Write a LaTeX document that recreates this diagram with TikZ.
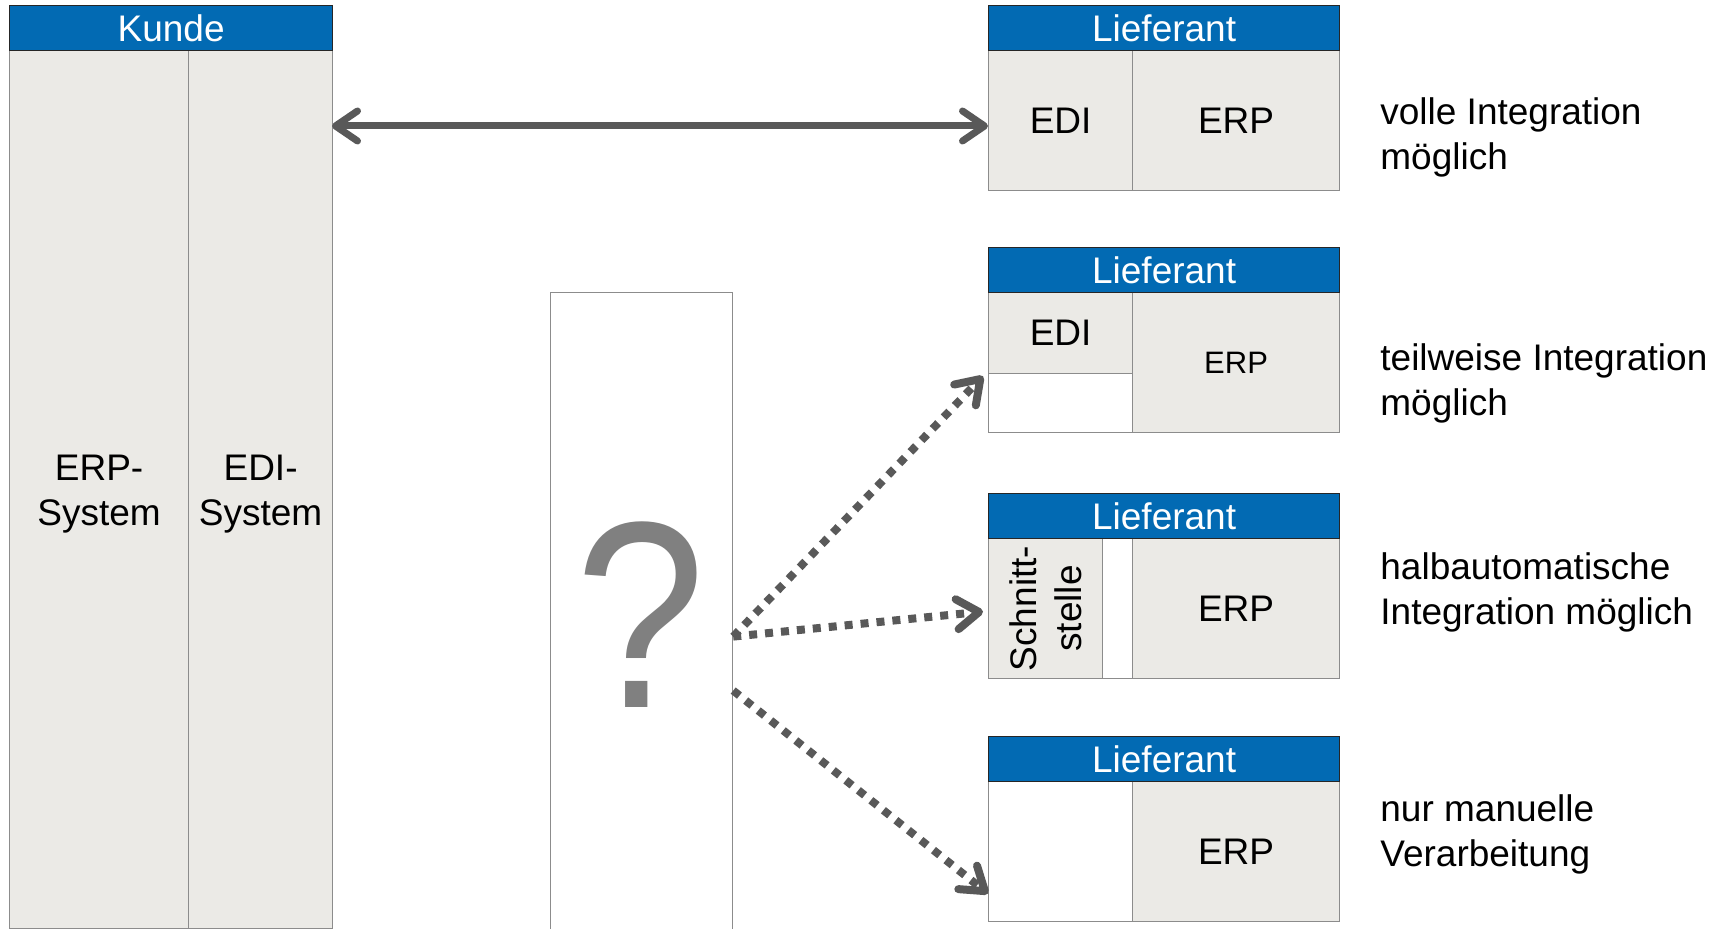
\documentclass[tikz,border=0pt]{standalone}
\usepackage{fontspec}
\setmainfont{Liberation Sans}
\usetikzlibrary{arrows.meta}

\definecolor{headblue}{RGB}{2,106,179}
\definecolor{cellgray}{RGB}{235,234,230}
\definecolor{framegray}{RGB}{140,140,140}
\definecolor{arrowgray}{RGB}{89,89,89}
\definecolor{askgray}{RGB}{128,128,128}

\newcommand{\bigfont}{\fontsize{18.5pt}{22.5pt}\selectfont}
\newcommand{\smallfont}{\fontsize{15.5pt}{18pt}\selectfont}
\newcommand{\lowered}[1]{\raisebox{-2.2pt}[\height][\depth]{\begin{tabular}{@{}c@{}}#1\end{tabular}}}

\tikzset{
  head/.style={draw=black!85, line width=0.6pt, fill=headblue, text=white, anchor=north west,
    inner sep=0pt, minimum height=22.5pt, font=\bigfont},
  cell/.style={draw=framegray, line width=0.6pt, fill=cellgray, anchor=north west,
    inner sep=0pt, font=\bigfont, align=center},
  whitecell/.style={cell, fill=white},
  note/.style={anchor=west, align=left, inner sep=0pt, font=\bigfont},
  barb/.tip={Straight Barb[length=11pt, width=15pt, line cap=round, line join=round]},
  link/.style={draw=arrowgray, line width=3.5pt},
  dots/.style={draw=arrowgray, line width=4pt, dash pattern=on 4pt off 4pt, -barb}
}

\begin{document}
\begin{tikzpicture}[x=0.5pt, y=-0.5pt]
  \useasboundingbox (0,0) rectangle (1721,929);

  % Kunde
  \node[cell, minimum width=89.5pt, minimum height=439pt] (kunde-erp) at (9,50) {\lowered{ERP-\\System}};
  \node[cell, minimum width=72pt, minimum height=439pt] (kunde-edi) at (188,50) {\lowered{EDI-\\System}};
  \node[head, minimum width=161.5pt] (kunde) at (9,5) {Kunde};

  % unbekannt
  \node[draw=framegray, line width=0.6pt, anchor=north west, inner sep=0pt,
    minimum width=91pt, minimum height=330pt] (ask) at (550,292) {};
  \node[text=askgray, font=\fontsize{133pt}{133pt}\selectfont, anchor=base, inner sep=0pt, xscale=0.88] (qmark) at (641,708) {?};

  % Lieferant 1
  \node[cell, minimum width=72pt, minimum height=70pt] (l1-edi) at (988,50) {EDI};
  \node[cell, minimum width=103.5pt, minimum height=70pt] (l1-erp) at (1132,50) {ERP};
  \node[head, minimum width=175.5pt] (l1) at (988,5) {Lieferant};

  % Lieferant 2
  \node[whitecell, minimum width=72pt, minimum height=70pt] (l2-free) at (988,292) {};
  \node[cell, minimum width=72pt, minimum height=40.5pt] (l2-edi) at (988,292) {EDI};
  \node[cell, minimum width=103.5pt, minimum height=70pt, font=\smallfont] (l2-erp) at (1132,292) {ERP};
  \node[head, minimum width=175.5pt] (l2) at (988,247) {Lieferant};

  % Lieferant 3
  \node[whitecell, minimum width=72pt, minimum height=70pt] (l3-free) at (988,538) {};
  \node[cell, minimum width=57pt, minimum height=70pt] (l3-if) at (988,538) {};
  \node[rotate=90, align=center, font=\bigfont, inner sep=0pt] (l3-iftext) at (l3-if.center) {Schnitt-\\stelle};
  \node[cell, minimum width=103.5pt, minimum height=70pt] (l3-erp) at (1132,538) {ERP};
  \node[head, minimum width=175.5pt] (l3) at (988,493) {Lieferant};

  % Lieferant 4
  \node[whitecell, minimum width=72pt, minimum height=70pt] (l4-free) at (988,781) {};
  \node[cell, minimum width=103.5pt, minimum height=70pt] (l4-erp) at (1132,781) {ERP};
  \node[head, minimum width=175.5pt] (l4) at (988,736) {Lieferant};

  % Beschreibungen
  \node[note] (n1) at (1380,137) {volle Integration\\möglich};
  \node[note] (n2) at (1380,383) {teilweise Integration\\möglich};
  \node[note] (n3) at (1380,592) {halbautomatische\\Integration möglich};
  \node[note] (n4) at (1380,834) {nur manuelle\\Verarbeitung};

  % Verbindungen
  \coordinate (kunde-port) at (332,126);
  \draw[link, barb-barb] (kunde-port) -- (kunde-port -| l1-edi.west);
  \draw[dots] ([yshift=-7pt]ask.east) -- ([xshift=-2.5pt, yshift=-1pt]l2-edi.south west);
  \draw[dots] ([yshift=-7pt]ask.east) -- ([xshift=-2.5pt, yshift=-1.5pt]l3-if.west);
  \draw[dots] ([yshift=-34pt]ask.east) -- ([yshift=-21pt]l4-free.west);
\end{tikzpicture}
\end{document}
